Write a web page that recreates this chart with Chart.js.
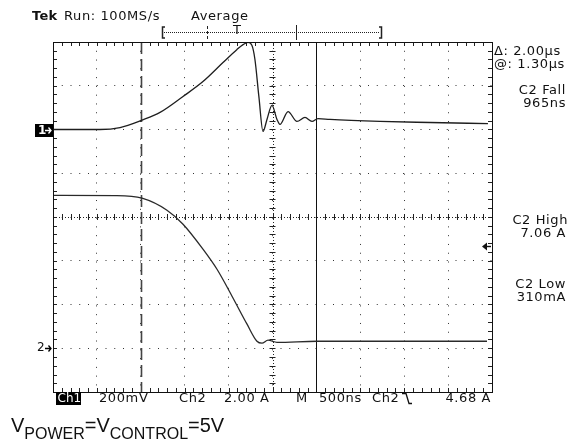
<!DOCTYPE html>
<html>
<head>
<meta charset="utf-8">
<script src="https://cdn.jsdelivr.net/npm/chart.js@4.4.0/dist/chart.umd.min.js"></script>
<style>
  html, body { margin: 0; padding: 0; background: #fff; }
  #wrap { width: 573px; height: 444px; }
</style>
</head>
<body>
<div id="wrap"><canvas id="scope" width="573" height="444"></canvas></div>
<script>
// time in µs from the left edge of the screen (500 ns/div, 10 divs)
const ch1Time  = [0, 0.535, 0.763, 1.014, 1.219, 1.481, 1.708, 1.936, 2.096, 2.165, 2.221, 2.265, 2.300, 2.345, 2.392, 2.437, 2.494, 2.551, 2.585, 2.677, 2.779, 2.870, 2.950, 3.018, 3.155, 3.724, 4.294, 4.954];
const ch1Volts = [0, 0, 0.009, 0.043, 0.078, 0.151, 0.219, 0.306, 0.366, 0.388, 0.398, 0.385, 0.320, 0.150, -0.009, 0.046, 0.110, 0.046, 0.023, 0.082, 0.037, 0.055, 0.037, 0.050, 0.046, 0.037, 0.032, 0.027];

const ch2Time = [0, 0.729, 1.014, 1.298, 1.481, 1.708, 1.868, 2.039, 2.210, 2.323, 2.380, 2.449, 2.551, 3.007, 4.943];
const ch2Amps = [6.99, 6.98, 6.86, 6.31, 5.67, 4.53, 3.61, 2.38, 1.10, 0.32, 0.23, 0.37, 0.27, 0.32, 0.32];

// channel settings (volts or amps per division, ground marker in divisions from centre)
const ch1Scale = 0.2, ch1Ground = 2;
const ch2Scale = 2.0, ch2Ground = -3;
const trigLevel = 4.68;
const cursorA = 1.0, cursorB = 3.0;   // µs, Δ = 2.00µs

const ch1Points = ch1Time.map((t, i) => ({ x: t, y: ch1Ground + ch1Volts[i] / ch1Scale }));
const ch2Points = ch2Time.map((t, i) => ({ x: t, y: ch2Ground + ch2Amps[i] / ch2Scale }));

const FONT = '"DejaVu Sans", sans-serif';

function txt(ctx, s, x, y, opt) {
  opt = opt || {};
  ctx.font = (opt.bold ? 'bold ' : '') + (opt.size || 13) + 'px ' + FONT;
  ctx.letterSpacing = opt.ls == null ? '0.6px' : opt.ls;
  ctx.textAlign = opt.align || 'left';
  ctx.textBaseline = 'middle';
  ctx.fillStyle = opt.color || '#111';
  ctx.fillText(s, x, y);
}

const scopeDecor = {
  id: 'scopeDecor',
  beforeDatasetsDraw(chart) {
    const { ctx, chartArea: a, scales: { x, y } } = chart;
    const cx = x.getPixelForValue(2.5), cy = y.getPixelForValue(0);
    ctx.save();
    ctx.strokeStyle = '#222';
    ctx.lineWidth = 1;
    // centre lines, finely dotted
    ctx.setLineDash([1, 2]);
    ctx.beginPath();
    ctx.moveTo(a.left, Math.round(cy) + 0.5); ctx.lineTo(a.right, Math.round(cy) + 0.5);
    ctx.moveTo(Math.round(cx) + 0.5, a.top); ctx.lineTo(Math.round(cx) + 0.5, a.bottom);
    ctx.stroke();
    ctx.setLineDash([]);
    // minor ticks on frame and centre cross
    ctx.beginPath();
    for (let t = 0; t <= 5.0001; t += 0.1) {
      const px = Math.round(x.getPixelForValue(t)) + 0.5;
      ctx.moveTo(px, a.top); ctx.lineTo(px, a.top + 4);
      ctx.moveTo(px, a.bottom); ctx.lineTo(px, a.bottom - 4);
      ctx.moveTo(px, cy - 3); ctx.lineTo(px, cy + 3);
    }
    for (let d = -4; d <= 4.0001; d += 0.2) {
      const py = Math.round(y.getPixelForValue(d)) + 0.5;
      ctx.moveTo(a.left, py); ctx.lineTo(a.left + 4, py);
      ctx.moveTo(a.right, py); ctx.lineTo(a.right - 4, py);
      ctx.moveTo(cx - 3, py); ctx.lineTo(cx + 3, py);
    }
    ctx.stroke();
    // cursors
    const pa = Math.round(x.getPixelForValue(cursorA)) + 0.5;
    const pb = Math.round(x.getPixelForValue(cursorB)) + 0.5;
    ctx.strokeStyle = '#444';
    ctx.lineWidth = 1.6;
    ctx.setLineDash([12, 5]);
    ctx.beginPath(); ctx.moveTo(pa, a.top); ctx.lineTo(pa, a.bottom); ctx.stroke();
    ctx.setLineDash([]);
    ctx.strokeStyle = '#111';
    ctx.lineWidth = 1;
    ctx.beginPath(); ctx.moveTo(pb, a.top); ctx.lineTo(pb, a.bottom); ctx.stroke();
    ctx.restore();
  },
  afterDraw(chart) {
    const { ctx, chartArea: a, scales: { x, y } } = chart;
    ctx.save();
    // frame
    ctx.strokeStyle = '#111';
    ctx.lineWidth = 1;
    ctx.strokeRect(Math.round(a.left) + 0.5, Math.round(a.top) + 0.5, Math.round(a.right - a.left), Math.round(a.bottom - a.top));

    // header
    txt(ctx, 'Tek', 32, 17, { bold: true, size: 13, ls: '0.3px' });
    txt(ctx, 'Run: 100MS/s', 64, 17);
    txt(ctx, 'Average', 191, 17);

    // record bar
    ctx.strokeStyle = '#222';
    ctx.lineWidth = 1;
    ctx.setLineDash([1, 1]);
    ctx.beginPath(); ctx.moveTo(164, 32.5); ctx.lineTo(380, 32.5); ctx.stroke();
    ctx.setLineDash([3, 2]);
    ctx.beginPath(); ctx.moveTo(207.5, 26); ctx.lineTo(207.5, 39); ctx.stroke();
    ctx.setLineDash([]);
    ctx.lineWidth = 1.5;
    ctx.beginPath();
    ctx.moveTo(165, 27); ctx.lineTo(162.5, 27); ctx.lineTo(162.5, 38); ctx.lineTo(165, 38);
    ctx.moveTo(379, 27); ctx.lineTo(381.5, 27); ctx.lineTo(381.5, 38); ctx.lineTo(379, 38);
    ctx.stroke();
    ctx.lineWidth = 1;
    ctx.beginPath(); ctx.moveTo(296.5, 25); ctx.lineTo(296.5, 40); ctx.stroke();
    txt(ctx, 'T', 237, 31, { align: 'center', ls: '0px' });

    // right side readouts
    txt(ctx, '\u0394: 2.00\u00b5s', 494, 52);
    txt(ctx, '@: 1.30\u00b5s', 494, 65);
    txt(ctx, 'C2 Fall', 566, 91, { align: 'right' });
    txt(ctx, '965ns', 566, 104, { align: 'right' });
    txt(ctx, 'C2 High', 568, 221, { align: 'right' });
    txt(ctx, '7.06 A', 566, 234, { align: 'right' });
    txt(ctx, 'C2 Low', 566, 285, { align: 'right' });
    txt(ctx, '310mA', 566, 298, { align: 'right' });

    // channel ground markers
    const g1 = Math.round(y.getPixelForValue(ch1Ground));
    const g2 = Math.round(y.getPixelForValue(ch2Ground));
    ctx.fillStyle = '#000';
    ctx.fillRect(35, g1 - 6, 18, 13);
    txt(ctx, '1', 38, g1 + 0.5, { color: '#fff', ls: '0px', size: 12, bold: true });
    ctx.strokeStyle = '#fff'; ctx.lineWidth = 1.3;
    ctx.beginPath(); ctx.moveTo(45, g1 + 0.5); ctx.lineTo(51, g1 + 0.5);
    ctx.moveTo(48.5, g1 - 2.5); ctx.lineTo(51, g1 + 0.5); ctx.lineTo(48.5, g1 + 3.5); ctx.stroke();
    txt(ctx, '2', 37, g2, { ls: '0px', size: 12 });
    ctx.strokeStyle = '#000';
    ctx.beginPath(); ctx.moveTo(45, g2 + 0.5); ctx.lineTo(51, g2 + 0.5);
    ctx.moveTo(48.5, g2 - 2.5); ctx.lineTo(51, g2 + 0.5); ctx.lineTo(48.5, g2 + 3.5); ctx.stroke();

    // trigger level arrow
    const tl = Math.round(y.getPixelForValue(ch2Ground + trigLevel / ch2Scale)) + 0.5;
    ctx.fillStyle = '#111';
    ctx.beginPath(); ctx.moveTo(482, tl); ctx.lineTo(487, tl - 4); ctx.lineTo(487, tl + 4); ctx.closePath(); ctx.fill();
    ctx.strokeStyle = '#111'; ctx.lineWidth = 1.4;
    ctx.beginPath(); ctx.moveTo(486, tl); ctx.lineTo(491, tl); ctx.stroke();

    // bottom status line
    const by = 398.5;
    ctx.fillStyle = '#000';
    ctx.fillRect(56, a.bottom, 25, 13);
    txt(ctx, 'Ch1', 57.5, by, { color: '#fff', ls: '0px', size: 12 });
    txt(ctx, '200mV', 99, by);
    txt(ctx, 'Ch2', 179, by);
    txt(ctx, '2.00 A', 224, by);
    txt(ctx, 'M', 296, by);
    txt(ctx, '500ns', 319, by);
    txt(ctx, 'Ch2', 372, by);
    ctx.strokeStyle = '#111'; ctx.lineWidth = 1.3;
    ctx.beginPath(); ctx.moveTo(402, 393.5); ctx.lineTo(406, 393.5); ctx.lineTo(409, 403.5); ctx.lineTo(412, 403.5); ctx.stroke();
    txt(ctx, '4.68 A', 491, by, { align: 'right' });

    // caption
    let cxp = 11;
    const part = (s, size, base) => {
      ctx.font = size + 'px "Liberation Sans", Arial, sans-serif';
      ctx.letterSpacing = '0px';
      ctx.textAlign = 'left';
      ctx.textBaseline = 'alphabetic';
      ctx.fillStyle = '#111';
      ctx.fillText(s, cxp, base);
      cxp += ctx.measureText(s).width;
    };
    part('V', 20, 432);
    part('POWER', 16, 439);
    part('=V', 20, 432);
    part('CONTROL', 16, 439);
    part('=5V', 20, 432);
    ctx.restore();
  }
};

new Chart(document.getElementById('scope'), {
  type: 'line',
  data: {
    datasets: [
      { label: 'Ch1', data: ch1Points, borderColor: '#1e1e1e', borderWidth: 1.3, pointRadius: 0, cubicInterpolationMode: 'monotone', fill: false },
      { label: 'Ch2', data: ch2Points, borderColor: '#2a2a2a', borderWidth: 1.3, pointRadius: 0, cubicInterpolationMode: 'monotone', fill: false }
    ]
  },
  options: {
    responsive: false,
    animation: false,
    devicePixelRatio: 1,
    layout: { padding: { left: 53, right: 81, top: 42, bottom: 52 } },
    plugins: { legend: { display: false }, tooltip: { enabled: false } },
    scales: {
      x: {
        type: 'linear', min: 0, max: 5,
        ticks: { display: false, stepSize: 0.5 },
        grid: { color: '#333', lineWidth: 1, drawTicks: false },
        border: { display: false, dash: [1, 7.78] }
      },
      y: {
        type: 'linear', min: -4, max: 4,
        ticks: { display: false, stepSize: 1 },
        grid: { color: '#333', lineWidth: 1, drawTicks: false },
        border: { display: false, dash: [1, 7.75] }
      }
    }
  },
  plugins: [scopeDecor]
});
</script>
</body>
</html>
